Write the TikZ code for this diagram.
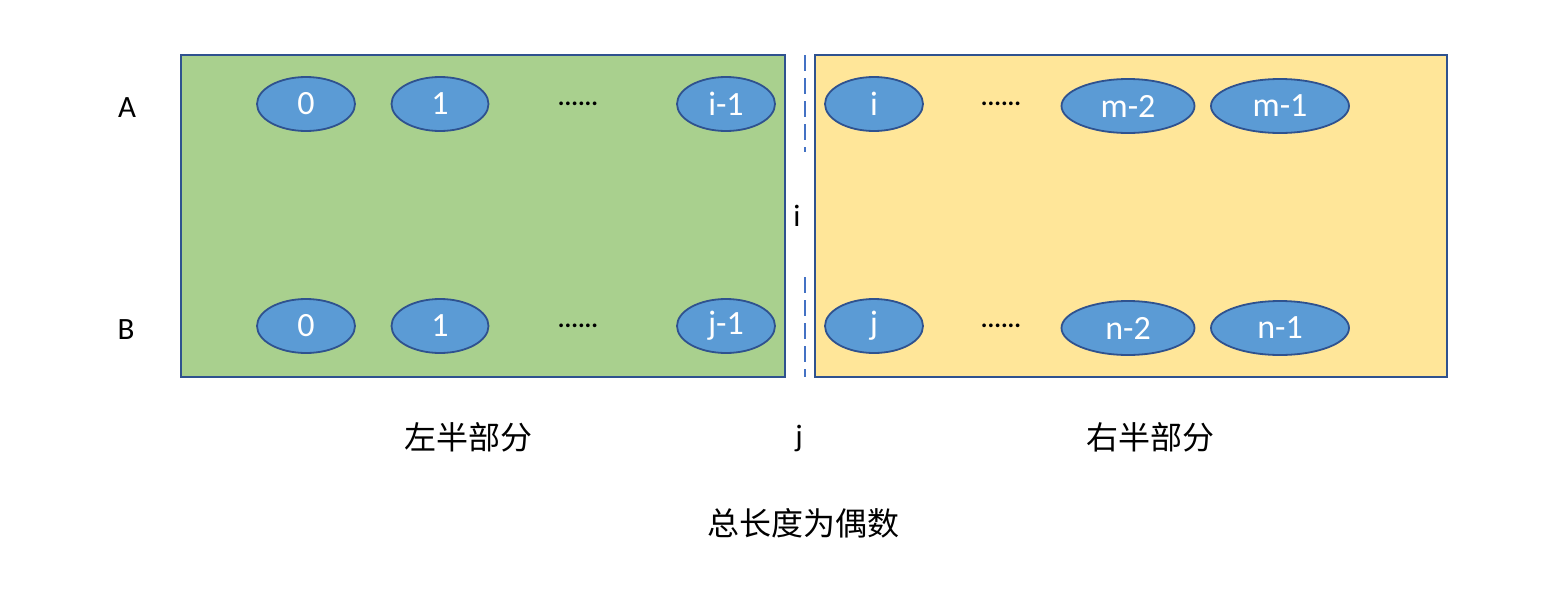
\documentclass[tikz,border=0pt]{standalone}
\usepackage{fontspec}
\setmainfont{Carlito}
\newfontfamily\cjk{Noto Sans CJK SC}
\usetikzlibrary{shapes.geometric}
\definecolor{gfill}{HTML}{A9D08E}
\definecolor{yfill}{HTML}{FFE699}
\definecolor{bborder}{HTML}{2F528F}
\definecolor{efill}{HTML}{5B9BD5}
\definecolor{dashc}{HTML}{4472C4}
\tikzset{
  half/.style={draw=bborder,line width=1.5pt},
  cell/.style={ellipse,draw=bborder,line width=1.8pt,fill=efill,text=white,inner sep=0pt,
    minimum height=54pt,font=\fontsize{34}{40}\selectfont},
  lbl/.style={font=\fontsize{31}{36}\selectfont},
  cjklbl/.style={font=\cjk\fontsize{32}{38}\selectfont},
  dotsl/.style={font=\bfseries\fontsize{25}{28}\selectfont},
  divider/.style={draw=dashc,line width=2.2pt,dash pattern=on 16pt off 7pt}
}
\begin{document}
\begin{tikzpicture}[x=1pt,y=-1pt]
\useasboundingbox (0,0) rectangle (1550,600);
\fill[gfill] (181,55) rectangle (785,377);
\draw[half] (181,55) rectangle (785,377);
\fill[yfill] (815,55) rectangle (1447,377);
\draw[half] (815,55) rectangle (1447,377);
\coordinate (d1a) at (805,55);
\coordinate (d1b) at (805,152);
\coordinate (d2a) at (805,277);
\coordinate (d2b) at (805,377);
\draw[divider] (d1a) -- (d1b);
\draw[divider] (d2a) -- (d2b);
% row A
\node[cell,minimum width=98pt] (a0) at (306,104) {0};
\node[cell,minimum width=97pt] (a1) at (440,104) {1};
\node[dotsl] (adots) at (578,104) {......};
\node[cell,minimum width=98pt] (ai1) at (726,104) {i-1};
\node[cell,minimum width=98pt] (ai) at (874,104) {i};
\node[dotsl] (adots2) at (1001,104) {......};
\node[cell,minimum width=133pt] (am2) at (1128,106) {m-2};
\node[cell,minimum width=138pt] (am1) at (1280,106) {m-1};
% row B
\node[cell,minimum width=98pt] (b0) at (306,326) {0};
\node[cell,minimum width=97pt] (b1) at (440,326) {1};
\node[dotsl] (bdots) at (578,326) {......};
\node[cell,minimum width=98pt] (bj1) at (726,326) {j-1};
\node[cell,minimum width=98pt] (bj) at (874,326) {j};
\node[dotsl] (bdots2) at (1001,326) {......};
\node[cell,minimum width=133pt] (bn2) at (1128,328) {n-2};
\node[cell,minimum width=138pt] (bn1) at (1280,328) {n-1};
% labels
\node[lbl] (la) at (127,108) {A};
\node[lbl] (lb) at (126,330) {B};
\node[lbl] (li) at (797,216) {i};
\node[lbl] (lj) at (799,438) {j};
\node[cjklbl] (left) at (468,437) {左半部分};
\node[cjklbl] (right) at (1150,437) {右半部分};
\node[cjklbl] (total) at (803,523) {总长度为偶数};
\end{tikzpicture}
\end{document}
